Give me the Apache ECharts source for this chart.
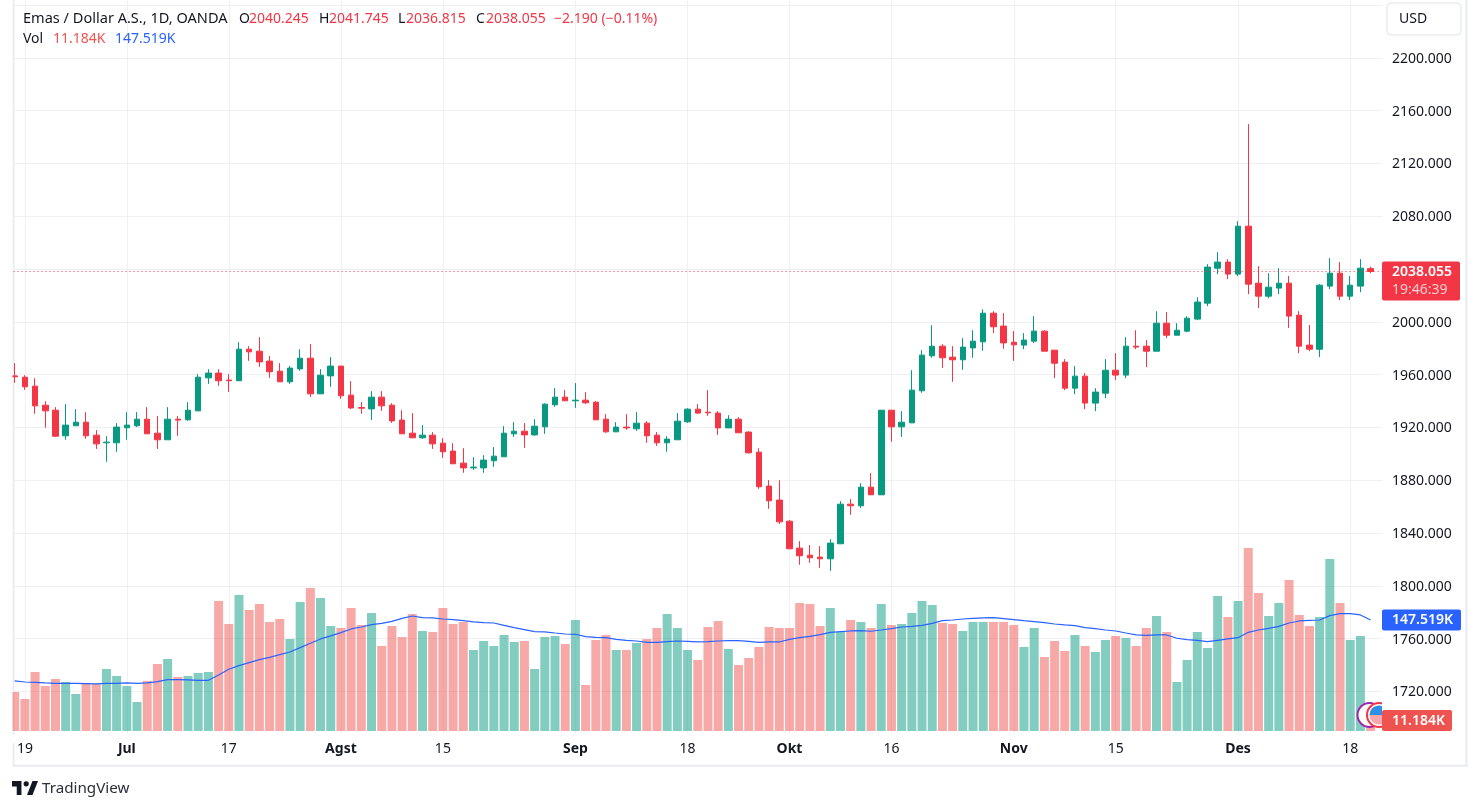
<!DOCTYPE html>
<html><head><meta charset="utf-8">
<style>html,body{margin:0;padding:0;background:#fff}#c{width:1480px;height:810px}</style>
<script src="https://cdn.jsdelivr.net/npm/echarts@6/dist/echarts.min.js"></script>
</head><body><div id="c"></div>
<script>
// [open, close, low, high]
const candles = [
[1959.0,1958.3,1953.7,1968.6],[1958.0,1950.7,1948.4,1959.5],[1951.2,1936.3,1930.3,1957.3],[1936.8,1932.5,1919.7,1939.8],
[1933.0,1913.3,1912.6,1935.3],[1913.6,1921.7,1910.6,1937.6],[1921.2,1923.9,1921.2,1933.8],[1923.9,1913.6,1911.3,1931.5],
[1914.1,1907.5,1903.7,1917.9],[1908.3,1908.8,1893.9,1913.3],[1908.3,1920.2,1901.5,1923.2],[1919.7,1921.7,1910.6,1931.5],
[1921.2,1926.2,1920.2,1931.5],[1926.2,1915.1,1915.1,1935.3],[1915.6,1910.6,1903.7,1928.5],[1910.6,1926.2,1910.6,1935.3],
[1926.2,1925.5,1913.6,1928.5],[1925.7,1933.0,1925.0,1939.1],[1932.5,1958.0,1932.5,1960.3],[1957.5,1961.1,1953.0,1964.1],
[1961.1,1955.3,1951.5,1964.1],[1955.8,1955.3,1946.9,1960.3],[1955.3,1979.2,1955.3,1984.5],[1979.2,1977.2,1970.4,1981.5],
[1977.7,1969.6,1965.9,1988.3],[1970.2,1962.1,1957.5,1974.0],[1962.6,1954.5,1954.5,1968.6],[1954.5,1964.9,1953.0,1966.4],
[1964.3,1972.4,1962.8,1979.2],[1972.4,1945.4,1943.1,1983.0],[1945.4,1959.5,1945.4,1964.1],[1959.0,1966.4,1950.7,1973.2],
[1966.4,1943.9,1941.6,1966.4],[1944.4,1934.7,1933.9,1955.0],[1935.0,1934.5,1930.3,1939.1],[1934.0,1942.9,1925.7,1947.4],
[1942.9,1936.3,1932.5,1947.4],[1936.8,1924.9,1923.4,1938.3],[1925.5,1915.1,1915.1,1933.0],[1915.6,1912.1,1912.1,1930.8],
[1912.1,1914.1,1911.3,1921.7],[1914.1,1907.5,1903.7,1916.4],[1908.0,1901.5,1896.9,1911.8],[1902.0,1892.4,1892.4,1908.0],
[1892.9,1889.3,1885.6,1904.2],[1889.3,1889.9,1887.8,1897.4],[1889.3,1895.2,1885.6,1898.9],[1894.7,1898.2,1890.1,1905.0],
[1897.7,1915.6,1897.7,1920.9],[1915.1,1917.1,1912.8,1923.9],[1917.1,1914.3,1904.5,1923.2],[1914.3,1920.9,1913.6,1926.2],
[1920.4,1937.6,1915.1,1938.3],[1937.1,1942.9,1935.6,1949.7],[1942.9,1940.1,1940.1,1948.2],[1940.1,1940.6,1934.8,1953.5],
[1940.6,1938.6,1937.8,1946.7],[1939.1,1925.7,1925.7,1939.8],[1926.2,1916.6,1915.9,1930.0],[1916.6,1920.2,1916.6,1923.9],
[1920.2,1919.6,1918.1,1930.0],[1918.9,1923.2,1917.4,1931.5],[1923.2,1913.6,1908.3,1924.7],[1914.1,1908.3,1906.0,1916.4],
[1908.3,1911.1,1901.5,1913.3],[1910.6,1924.7,1910.6,1930.8],[1924.2,1933.8,1923.4,1934.5],[1933.8,1930.8,1930.3,1937.6],
[1931.5,1931.0,1928.7,1948.2],[1930.8,1919.6,1914.3,1932.3],[1919.6,1926.2,1919.6,1929.2],[1926.2,1915.9,1915.9,1927.7],
[1916.4,1900.7,1900.2,1917.1],[1901.2,1875.0,1873.4,1904.2],[1875.5,1864.4,1858.3,1880.0],[1864.9,1848.4,1846.9,1880.0],
[1848.9,1828.0,1828.0,1849.7],[1828.5,1822.7,1815.9,1833.8],[1823.2,1821.2,1817.4,1830.8],[1821.7,1820.4,1813.6,1830.0],
[1820.4,1832.3,1811.3,1835.3],[1831.8,1861.8,1831.8,1864.1],[1861.8,1860.6,1853.8,1865.6],[1860.6,1874.7,1859.0,1877.7],
[1874.7,1868.9,1868.9,1885.3],[1868.9,1933.0,1868.9,1933.0],[1933.0,1920.4,1909.1,1933.0],[1920.4,1923.9,1912.8,1932.3],
[1923.4,1948.2,1923.4,1963.3],[1947.7,1974.7,1946.2,1978.5],[1974.2,1981.5,1972.7,1997.4],[1981.5,1972.7,1965.1,1983.0],
[1973.2,1971.2,1954.5,1981.5],[1971.2,1980.8,1963.6,1987.6],[1980.2,1985.3,1972.7,1993.6],[1984.8,2006.5,1978.0,2009.5],
[2006.5,1996.2,1991.4,2008.0],[1996.7,1984.0,1979.5,2006.5],[1984.5,1982.5,1970.4,1992.9],[1982.3,1986.1,1979.2,1991.4],
[1985.3,1992.9,1983.8,2004.2],[1992.9,1977.7,1977.7,1993.6],[1978.5,1968.6,1957.3,1978.5],[1969.4,1949.7,1948.2,1971.7],
[1949.7,1958.8,1945.2,1966.4],[1958.8,1938.4,1933.8,1961.1],[1938.4,1946.7,1932.3,1949.7],[1945.9,1963.3,1942.1,1971.7],
[1963.3,1959.6,1955.8,1976.2],[1959.6,1981.5,1957.3,1988.3],[1981.5,1980.8,1979.2,1993.6],[1981.5,1977.7,1965.6,1986.1],
[1977.7,1998.9,1977.7,2008.0],[1998.9,1989.8,1987.6,2007.3],[1989.8,1993.6,1989.8,1998.9],[1992.9,2002.7,1992.1,2004.2],
[2002.0,2014.9,2001.2,2018.6],[2014.1,2041.4,2011.8,2043.6],[2040.6,2045.2,2036.1,2052.7],[2045.2,2036.1,2032.3,2047.4],
[2036.1,2072.4,2034.6,2076.2],[2072.4,2028.5,2020.9,2149.7],[2029.2,2019.4,2010.3,2042.1],[2019.4,2026.2,2017.9,2036.8],
[2025.5,2029.2,2020.9,2040.6],[2029.2,2004.3,1995.2,2034.6],[2005.0,1981.5,1976.2,2008.0],[1982.3,1979.2,1977.7,1997.5],
[1979.2,2027.7,1973.2,2028.5],[2027.0,2036.8,2024.7,2048.2],[2036.8,2019.4,2016.4,2045.2],[2019.4,2027.7,2016.4,2034.6],
[2027.0,2040.6,2022.4,2047.4],[2040.245,2038.055,2036.815,2041.745]
];
const volumes = [
51.8,42.5,78.4,59.8,69.1,65.1,49.2,62.5,62.5,82.4,73.1,59.8,38.5,66.5,89.0,95.7,71.8,73.1,77.1,78.4,
172.8,142.2,180.7,160.8,168.8,144.9,148.8,122.3,171.4,190.0,176.8,139.5,136.9,163.5,140.9,156.8,113.0,139.5,124.9,155.5,
132.9,131.6,163.5,142.2,144.9,107.6,119.6,113.0,127.6,118.3,119.6,82.4,124.9,126.3,115.6,147.5,61.1,120.9,127.6,107.6,
107.6,117.0,122.3,136.9,155.5,136.9,107.6,94.4,138.2,146.2,109.0,87.7,97.0,111.6,138.2,136.9,136.9,170.1,168.8,139.5,
163.5,131.6,147.5,144.9,136.9,168.8,140.9,142.2,156.8,172.8,167.5,143.5,142.2,132.9,144.9,144.9,144.9,144.9,140.9,111.6,
136.9,98.3,119.6,106.3,127.6,113.0,105.0,120.9,126.3,123.6,113.0,136.9,152.8,131.6,65.1,94.4,131.6,110.3,179.4,151.5,
172.8,243.2,183.4,152.8,170.1,200.7,154.2,139.5,151.5,228.6,170.1,120.9,126.3,11.184
];
const volumeMA = [
66.5,65.1,64.7,63.8,63.3,63.3,63.3,62.9,62.5,63.3,63.3,63.8,63.3,63.8,65.6,68.2,68.2,67.8,67.3,67.3,
74.4,82.0,86.8,90.8,94.8,97.9,101.4,105.0,110.8,116.5,122.3,126.3,130.7,135.6,138.2,141.3,143.1,145.7,149.7,152.8,
150.6,150.2,148.8,148.0,146.6,144.9,144.0,143.5,140.4,137.3,134.7,132.0,131.6,130.2,128.9,128.5,125.4,124.5,124.0,121.8,
120.5,119.6,117.8,117.8,118.7,119.6,119.2,118.3,118.7,119.6,120.1,120.1,119.2,117.8,118.3,118.3,121.8,124.0,125.8,128.0,
131.1,132.0,132.9,133.3,132.5,134.2,136.0,138.2,139.1,140.4,143.1,146.6,147.5,148.8,149.7,150.2,150.6,149.3,148.0,146.6,
145.3,144.0,142.2,140.9,140.0,137.3,136.0,134.2,132.9,130.2,127.6,127.1,127.6,127.6,123.2,121.4,120.5,118.7,120.5,122.3,
124.0,131.1,134.2,136.4,139.1,143.5,146.2,147.1,147.5,153.3,155.9,155.9,154.2,147.519
];
const xTickLabels = {1:'19',11:'Jul',21:'17',32:'Agst',42:'15',55:'Sep',66:'18',76:'Okt',86:'16',98:'Nov',108:'15',120:'Des',131:'18'};
const monthTicks = ['Jul','Agst','Sep','Okt','Nov','Des'];
const gridPrices = [2240,2200,2160,2120,2080,2040,2000,1960,1920,1880,1840,1800,1760,1720];
const labelPrices = [2200,2160,2120,2080,2000,1960,1920,1880,1840,1800,1760,1720];
const lastPrice = 2038.055, lastVolume = 11.184, lastVolumeMA = 147.519;
const headerTitle = 'Emas / Dollar A.S., 1D, OANDA';
const headerOHLC = [['O',239,'2040.245',249],['H',319,'2041.745',329],['L',398,'2036.815',406],['C',476,'2038.055',486]];
const headerChange = '\u22122.190 (\u22120.11%)';

const FONT = '"Noto Sans", sans-serif', INK = '#131722', UP = '#089981', DOWN = '#F23645', GRID = '#eff0f4', FRAME = '#eaebf2', BLUE = '#2962FF', VOLRED = '#EF5350';
const categories = candles.map((_, i) => xTickLabels[i] || '').concat(['']);
const isTick = i => xTickLabels[i] !== undefined;

const chart = echarts.init(document.getElementById('c'), null, {renderer: 'canvas'});
const gridRect = {left: 9.6, width: 1376.3, top: 1, height: 732.6};
const option = {
  animation: false,
  backgroundColor: '#ffffff',
  grid: [Object.assign({}, gridRect), Object.assign({}, gridRect)],
  xAxis: [
    {type: 'category', gridIndex: 0, data: categories, boundaryGap: true,
     axisLine: {show: false}, axisTick: {show: false, alignWithLabel: true},
     splitLine: {show: true, alignWithLabel: true, interval: i => isTick(i), lineStyle: {color: GRID, width: 1}},
     axisLabel: {interval: i => isTick(i), margin: 8, fontFamily: FONT, fontSize: 14, color: INK,
       formatter: v => monthTicks.includes(v) ? '{b|' + v + '}' : v,
       rich: {b: {fontFamily: FONT, fontSize: 14, fontWeight: 'bold', color: INK}}}},
    {type: 'category', gridIndex: 1, data: categories, show: false}
  ],
  yAxis: [
    {type: 'value', gridIndex: 0, position: 'right', min: 1688, max: 2243, scale: true,
     axisLine: {show: false},
     axisTick: {show: false, customValues: gridPrices},
     splitLine: {show: true, lineStyle: {color: GRID, width: 1}},
     axisLabel: {customValues: labelPrices, inside: false, margin: 6.1, align: 'left', fontFamily: FONT, fontSize: 14, color: INK,
       formatter: v => '{a|' + v.toFixed(3) + '}',
       rich: {a: {fontFamily: FONT, fontSize: 14, color: INK, padding: [2, 0, 0, 0]}}}},
    {type: 'value', gridIndex: 1, show: false, min: -3.5, max: 970.2, splitLine: {show: false}}
  ],
  series: [
    {type: 'bar', name: 'Vol', xAxisIndex: 1, yAxisIndex: 1, barWidth: 9, z: 2,
     data: volumes.map((v, i) => ({value: v, itemStyle: {color: candles[i][1] >= candles[i][0] ? 'rgba(8,153,129,0.5)' : 'rgba(239,83,80,0.5)'}}))},
    {type: 'line', name: 'Vol MA', xAxisIndex: 1, yAxisIndex: 1, data: volumeMA, symbol: 'none', z: 3, lineStyle: {color: BLUE, width: 1.2}},
    {type: 'candlestick', name: 'Emas / Dollar', xAxisIndex: 0, yAxisIndex: 0, barWidth: 6, z: 4,
     itemStyle: {color: UP, color0: DOWN, borderColor: UP, borderColor0: DOWN, borderWidth: 1},
     data: candles,
     markLine: {silent: true, symbol: 'none', animation: false, label: {show: false},
       lineStyle: {color: DOWN, type: [1, 3], width: 1}, data: [{yAxis: lastPrice}]}}
  ]
};
chart.setOption(option);

const yPrice = chart.convertToPixel({yAxisIndex: 0}, lastPrice);
const yMA = chart.convertToPixel({yAxisIndex: 1}, lastVolumeMA);
const yVol = chart.convertToPixel({yAxisIndex: 1}, lastVolume);
const txt = (x, y, text, fill, extra) => ({type: 'text', z: 20, silent: true, x, y,
  style: Object.assign({text, fill, font: '14px ' + FONT, textVerticalAlign: 'middle', textAlign: 'left'}, extra || {})});
const rect = (x, y, w, h, fill, z, r) => ({type: 'rect', z, silent: true, shape: {x, y, width: w, height: h, r: r || 0}, style: {fill}});
// TradingView mark, drawn in its own 36x28 box
const lx = p => 12 + (p - 2) * 0.788, ly = p => 781 + (p - 6) * 0.93;
const logoPoly = pts => ({type: 'polygon', z: 20, silent: true, shape: {points: pts.map(p => [lx(p[0]), ly(p[1])])}, style: {fill: INK}});
const els = [
  rect(0, 0, 12.5, 810, '#ffffff', 6),
  rect(12.5, 0, 2, 766, FRAME, -1),
  rect(1382, 0, 9, 735, '#ffffff', 6),
  rect(0, 735, 1386, 8, '#ffffff', 6),
  rect(12.5, 764.8, 1455, 2, FRAME, 6),
  rect(1465.5, 0, 2, 766.8, FRAME, 6),
  // news / economic-event badges
  {type: 'circle', z: 5, silent: true, shape: {cx: 1369.5, cy: 715, r: 12}, style: {fill: '#fff', stroke: '#9C27B0', lineWidth: 2}},
  {type: 'circle', z: 5, silent: true, shape: {cx: 1379, cy: 715, r: 12}, style: {fill: '#fff', stroke: '#F23645', lineWidth: 2}},
  {type: 'circle', z: 5, silent: true, shape: {cx: 1379, cy: 715, r: 9.5}, style: {fill: '#f7a6ad'}},
  {type: 'sector', z: 5, silent: true, shape: {cx: 1379, cy: 715, r: 9.5, startAngle: Math.PI, endAngle: 2 * Math.PI}, style: {fill: '#2F8FE6'}},
  // USD box
  {type: 'rect', z: 20, silent: true, shape: {x: 1387, y: 3, width: 74, height: 32, r: 4}, style: {fill: '#fff', stroke: '#e0e3eb', lineWidth: 1}},
  txt(1399, 19, 'USD', INK),
  // header
  txt(23, 19, headerTitle, INK, {font: '14.55px ' + FONT}),
  txt(23, 39, 'Vol', INK),
  txt(53, 39, lastVolume.toFixed(3) + 'K', VOLRED),
  txt(115, 39, lastVolumeMA.toFixed(3) + 'K', BLUE),
  txt(554, 19, headerChange, DOWN),
  // tags
  rect(1382, yPrice - 10, 78, 39, DOWN, 15, 2),
  txt(1392, yPrice + 0.5, lastPrice.toFixed(3), '#fff', {font: '600 14px ' + FONT}),
  txt(1392, yPrice + 18.5, '19:46:39', 'rgba(255,255,255,0.75)', {font: '14px ' + FONT}),
  rect(1382, yMA - 10.5, 79, 21, BLUE, 15, 2),
  txt(1392, yMA + 0.5, lastVolumeMA.toFixed(3) + 'K', '#fff', {font: '600 14px ' + FONT}),
  rect(1382, yVol - 12.5, 70, 21, VOLRED, 15, 2),
  txt(1392, yVol - 1.5, lastVolume.toFixed(3) + 'K', '#fff', {font: '600 14px ' + FONT}),
  // logo
  logoPoly([[2,6],[14,6],[14,21],[8,21],[8,12],[2,12]]),
  logoPoly([[21,21],[28,21],[35,6],[28,6]]),
  {type: 'circle', z: 20, silent: true, shape: {cx: lx(20), cy: ly(9), r: 2.6}, style: {fill: INK}},
  txt(42, 789, 'TradingView', '#2a2e39', {font: '15.2px ' + FONT})
];
headerOHLC.forEach(h => { els.push(txt(h[1], 19, h[0], INK)); els.push(txt(h[3], 19, h[2], DOWN)); });
chart.setOption({graphic: {elements: els}});
</script></body></html>
